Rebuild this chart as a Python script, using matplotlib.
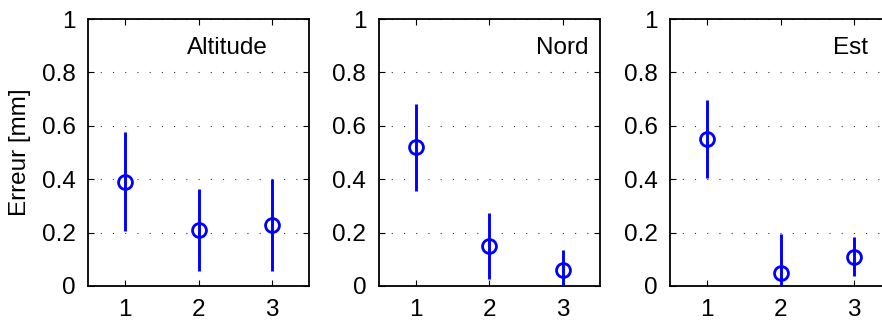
import matplotlib
matplotlib.use("Agg")
import matplotlib.pyplot as plt

plt.rcParams['font.family'] = ['Liberation Sans', 'DejaVu Sans']

# ======================================================
# DATA
# ======================================================
x = [1, 2, 3]
panels = ["Altitude", "Nord", "Est"]

alt_mean = [0.39, 0.21, 0.23]
alt_err  = [0.185, 0.155, 0.172]

nord_mean = [0.52, 0.15, 0.06]
nord_err  = [0.163, 0.125, 0.075]

est_mean = [0.55, 0.05, 0.11]
est_err  = [0.145, 0.145, 0.074]

label_x = [1.85, 2.63, 2.71]

means = [alt_mean, nord_mean, est_mean]
errs = [alt_err, nord_err, est_err]

# ======================================================
# FIGURE
# ======================================================
fig = plt.figure(figsize=(8.82, 3.2), dpi=100)

W, H = 882.0, 320.0
lefts = [88, 378.7, 670]
ax_w = 221
ax_b = 34
ax_h = 267

for i in range(3):
    ax = fig.add_axes([lefts[i] / W, ax_b / H, ax_w / W, ax_h / H])
    ax.errorbar(x, means[i], yerr=errs[i], fmt='o', color='#0000ff',
                mfc='none', mec='#0000ff', ms=10, mew=2.0,
                elinewidth=2.1, capsize=0)
    ax.set_xlim(0.5, 3.5)
    ax.set_ylim(0, 1)
    ax.set_xticks(x)
    ax.set_yticks([0, 0.2, 0.4, 0.6, 0.8, 1])
    ax.set_yticklabels(["0", "0.2", "0.4", "0.6", "0.8", "1"])
    ax.tick_params(direction='in', top=True, right=True, length=4,
                   width=0.8, labelsize=17.5, pad=9)
    for s in ax.spines.values():
        s.set_linewidth(1.3)
    ax.yaxis.grid(True, linestyle=(0, (1, 10)), color='#333333', linewidth=0.8)
    ax.set_axisbelow(True)
    ax.text(label_x[i], 0.87, panels[i], fontsize=17.5, ha='left', va='baseline')
    if i == 0:
        ax.set_ylabel("Erreur [mm]", fontsize=17.5, labelpad=8)

fig.savefig("out.png", dpi=100)
